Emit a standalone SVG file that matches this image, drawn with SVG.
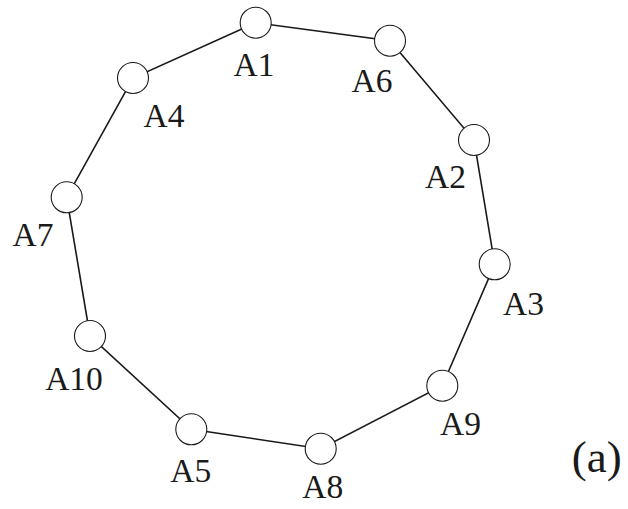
<svg xmlns="http://www.w3.org/2000/svg" width="628" height="509" viewBox="0 0 628 509">
<style>
.e{stroke:#1a1a1a;stroke-width:1.6;fill:none}
.n{fill:#fff;stroke:#1a1a1a;stroke-width:1.1}
text{font-family:"Liberation Serif",Tinos,"Times New Roman","DejaVu Serif",serif;fill:#1a1a1a;text-anchor:middle}
.t{font-size:33.5px}
</style>
<rect width="628" height="509" fill="#fff"/>
<g id="edges">
<polyline class="e" points="255.7,22.7 390,40.7 474,140 494.7,264.3 442.3,385.7 320.7,448.7 191.3,429.3 90,336 66.7,197.3 133,78 255.7,22.7"/>
</g>
<g id="A1"><circle class="n" cx="255.7" cy="22.7" r="15.5"/><text class="t" x="254" y="76">A1</text></g>
<g id="A6"><circle class="n" cx="390" cy="40.7" r="15.5"/><text class="t" x="372" y="92">A6</text></g>
<g id="A2"><circle class="n" cx="474" cy="140" r="15.5"/><text class="t" x="445.5" y="188">A2</text></g>
<g id="A3"><circle class="n" cx="494.7" cy="264.3" r="15.5"/><text class="t" x="523.5" y="315">A3</text></g>
<g id="A9"><circle class="n" cx="442.3" cy="385.7" r="15.5"/><text class="t" x="460.5" y="435">A9</text></g>
<g id="A8"><circle class="n" cx="320.7" cy="448.7" r="15.5"/><text class="t" x="322.7" y="498">A8</text></g>
<g id="A5"><circle class="n" cx="191.3" cy="429.3" r="15.5"/><text class="t" x="190.7" y="482">A5</text></g>
<g id="A10"><circle class="n" cx="90" cy="336" r="15.5"/><text class="t" x="74" y="390">A10</text></g>
<g id="A7"><circle class="n" cx="66.7" cy="197.3" r="15.5"/><text class="t" x="33" y="246">A7</text></g>
<g id="A4"><circle class="n" cx="133" cy="78" r="15.5"/><text class="t" x="164" y="127">A4</text></g>
<text x="596.7" y="472" font-size="45">(a)</text>
</svg>
